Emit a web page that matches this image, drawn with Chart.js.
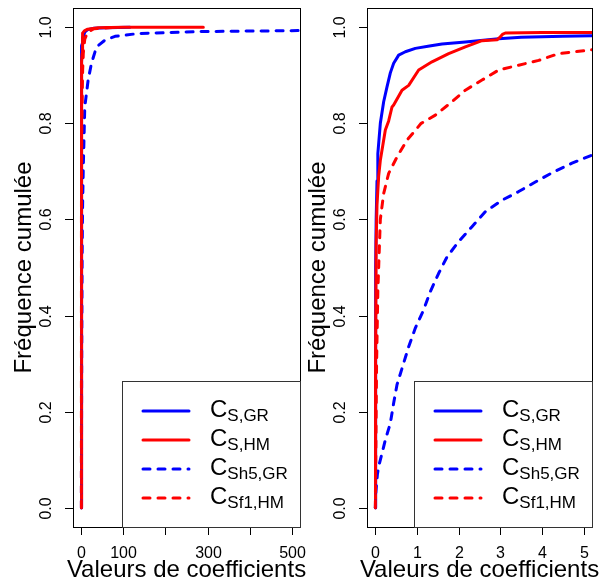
<!DOCTYPE html>
<html>
<head>
<meta charset="utf-8">
<script src="https://cdn.jsdelivr.net/npm/chart.js@4.4.0/dist/chart.umd.min.js"></script>
<style>
  html, body { margin: 0; padding: 0; background: #fff; }
  #wrap { position: relative; width: 602px; height: 585px; }
  canvas { position: absolute; top: 0; left: 0; }
</style>
</head>
<body>
<div id="wrap">
  <canvas id="leftChart" width="602" height="585"></canvas>
  <canvas id="rightChart" width="602" height="585"></canvas>
</div>
<script>
// Courbes de fréquence cumulée
const csGrX = [0, 0.005, 0.01, 0.02, 0.04, 0.06, 0.12, 0.2, 0.28, 0.36, 0.44, 0.56, 0.72, 0.96, 1.3, 1.6, 2.16, 2.96, 3.5, 4.5, 5.2, 8, 15, 30, 60, 115];
const csGrY = [0, 0.3, 0.5, 0.6, 0.68, 0.737, 0.8, 0.845, 0.876, 0.905, 0.925, 0.942, 0.949, 0.956, 0.961, 0.965, 0.969, 0.976, 0.979, 0.981, 0.982, 0.99, 0.995, 0.998, 0.999, 1.0];

const csHmX = [0, 0.005, 0.02, 0.04, 0.08, 0.12, 0.24, 0.32, 0.4, 0.44, 0.64, 0.8, 1.04, 1.36, 1.76, 2.16, 2.56, 2.92, 2.98, 3.05, 3.12, 4, 5.2, 8, 15, 40, 100, 290];
const csHmY = [0, 0.3, 0.55, 0.63, 0.69, 0.723, 0.786, 0.805, 0.834, 0.838, 0.869, 0.879, 0.911, 0.928, 0.945, 0.959, 0.972, 0.974, 0.978, 0.985, 0.988, 0.989, 0.989, 0.993, 0.996, 0.999, 1.0, 1.0];

const csh5GrX = [0, 0.01, 0.03, 0.05, 0.08, 0.24, 0.36, 0.44, 0.52, 0.64, 0.8, 0.96, 1.16, 1.32, 1.52, 1.72, 2.0, 2.32, 2.64, 3.04, 3.44, 3.84, 4.28, 4.72, 5.2, 8, 16, 24, 36, 56, 80, 136, 282, 520];
const csh5GrY = [0, 0.03, 0.05, 0.07, 0.086, 0.141, 0.176, 0.218, 0.256, 0.29, 0.335, 0.374, 0.412, 0.45, 0.488, 0.522, 0.554, 0.585, 0.616, 0.64, 0.658, 0.678, 0.699, 0.717, 0.734, 0.834, 0.89, 0.925, 0.959, 0.973, 0.981, 0.987, 0.991, 0.993];

const csf1HmX = [0, 0.01, 0.03, 0.06, 0.1, 0.12, 0.2, 0.32, 0.52, 0.76, 1.1, 1.44, 1.84, 2.16, 2.56, 2.96, 3.44, 3.92, 4.4, 5.0, 5.2, 8, 15, 30, 80];
const csf1HmY = [0, 0.1, 0.3, 0.45, 0.55, 0.6, 0.654, 0.696, 0.73, 0.765, 0.8, 0.817, 0.845, 0.869, 0.89, 0.911, 0.921, 0.931, 0.945, 0.951, 0.953, 0.975, 0.99, 0.997, 1.0];

// Légende : "C" + indice
const seriesSubs = ['S,GR', 'S,HM', 'Sh5,GR', 'Sf1,HM'];

// Graduations
const yTicks = [0, 0.2, 0.4, 0.6, 0.8, 1.0];
const yLabels = ['0.0', '0.2', '0.4', '0.6', '0.8', '1.0'];
const xTicksLeft = [0, 100, 200, 300, 400, 500];
const xLabelsLeft = ['0', '100', '', '300', '', '500'];
const xTicksRight = [0, 1, 2, 3, 4, 5];
const xLabelsRight = ['0', '1', '2', '3', '4', '5'];

const xTitle = 'Valeurs de coefficients';
const yTitle = 'Fréquence cumulée';

const FONT = '"Liberation Sans", Arial, Helvetica, sans-serif';
const BLUE = '#0000ff';
const RED = '#ff0000';

const seriesStyle = [
    { color: BLUE, dash: [], order: 4 },
    { color: RED, dash: [], order: 3 },
    { color: BLUE, dash: [7, 8], order: 2 },
    { color: RED, dash: [7, 8], order: 1 }
];

function pts(xs, ys) {
    return xs.map((v, i) => ({ x: v, y: ys[i] }));
}

function buildDatasets() {
    const data = [pts(csGrX, csGrY), pts(csHmX, csHmY), pts(csh5GrX, csh5GrY), pts(csf1HmX, csf1HmY)];
    return data.map((d, i) => ({
        label: 'C' + seriesSubs[i],
        data: d,
        borderColor: seriesStyle[i].color,
        borderWidth: 3,
        borderDash: seriesStyle[i].dash,
        borderCapStyle: 'round',
        borderJoinStyle: 'round',
        pointRadius: 0,
        tension: 0,
        fill: false,
        clip: 0,
        order: seriesStyle[i].order
    }));
}

// Axes façon R + boîte + légende
function rStylePlugin(xTicks, xLabels) {
    return {
        id: 'rStyle',
        afterDatasetsDraw(chart) {
            const { ctx, chartArea: a, scales: { x, y } } = chart;
            ctx.save();
            ctx.strokeStyle = '#000';
            ctx.fillStyle = '#000';
            ctx.lineWidth = 1;
            ctx.strokeRect(Math.round(a.left) + 0.5, Math.round(a.top) + 0.5,
                Math.round(a.right - a.left), Math.round(a.bottom - a.top));

            ctx.font = '16px ' + FONT;
            ctx.textAlign = 'center';
            ctx.textBaseline = 'alphabetic';
            xTicks.forEach((v, i) => {
                const px = Math.round(x.getPixelForValue(v)) + 0.5;
                ctx.beginPath();
                ctx.moveTo(px, a.bottom);
                ctx.lineTo(px, a.bottom + 8);
                ctx.stroke();
                if (xLabels[i]) ctx.fillText(xLabels[i], px, a.bottom + 31);
            });
            yTicks.forEach((v, i) => {
                const py = Math.round(y.getPixelForValue(v)) + 0.5;
                ctx.beginPath();
                ctx.moveTo(a.left - 8, py);
                ctx.lineTo(a.left, py);
                ctx.stroke();
                ctx.save();
                ctx.translate(a.left - 22, py);
                ctx.rotate(-Math.PI / 2);
                ctx.fillText(yLabels[i], 0, 0);
                ctx.restore();
            });

            ctx.font = '24px ' + FONT;
            ctx.fillText(xTitle, (a.left + a.right) / 2, a.bottom + 50);
            ctx.save();
            ctx.translate(a.left - 42, (a.top + a.bottom) / 2);
            ctx.rotate(-Math.PI / 2);
            ctx.fillText(yTitle, 0, 0);
            ctx.restore();

            // légende en bas à droite
            const lw = 178, lh = 146;
            const lx = Math.round(a.right) - lw, ly = Math.round(a.bottom) - lh;
            ctx.fillStyle = '#fff';
            ctx.fillRect(lx, ly, lw, lh);
            ctx.strokeStyle = '#333';
            ctx.strokeRect(lx + 0.5, ly + 0.5, lw, lh);
            seriesSubs.forEach((sub, i) => {
                const yy = ly + 30 + i * 29;
                ctx.strokeStyle = seriesStyle[i].color;
                ctx.lineWidth = 3;
                ctx.lineCap = 'round';
                ctx.setLineDash(seriesStyle[i].dash);
                ctx.beginPath();
                ctx.moveTo(lx + 21, yy);
                ctx.lineTo(lx + 67, yy);
                ctx.stroke();
                ctx.setLineDash([]);
                ctx.fillStyle = '#000';
                ctx.textAlign = 'left';
                ctx.font = '24px ' + FONT;
                ctx.fillText('C', lx + 88, yy + 6);
                const cw = ctx.measureText('C').width;
                ctx.font = '17px ' + FONT;
                ctx.fillText(sub, lx + 88 + cw, yy + 9.5);
            });
            ctx.restore();
        }
    };
}

function makeChart(id, xMin, xMax, xTicks, xLabels, padding) {
    const canvas = document.getElementById(id);
    return new Chart(canvas, {
        type: 'line',
        data: { datasets: buildDatasets() },
        options: {
            responsive: false,
            animation: false,
            events: [],
            layout: { padding: padding },
            plugins: {
                legend: { display: false },
                tooltip: { enabled: false }
            },
            scales: {
                x: { type: 'linear', min: xMin, max: xMax, display: false },
                y: { type: 'linear', min: -0.04, max: 1.04, display: false }
            }
        },
        plugins: [rStylePlugin(xTicks, xLabels)]
    });
}

// deux panneaux superposés sur toute la largeur (canvas transparents)
makeChart('leftChart', -20, 520, xTicksLeft, xLabelsLeft, { left: 73, right: 302, top: 8, bottom: 58 });
makeChart('rightChart', -0.2, 5.2, xTicksRight, xLabelsRight, { left: 367, right: 10, top: 8, bottom: 58 });
</script>
</body>
</html>
